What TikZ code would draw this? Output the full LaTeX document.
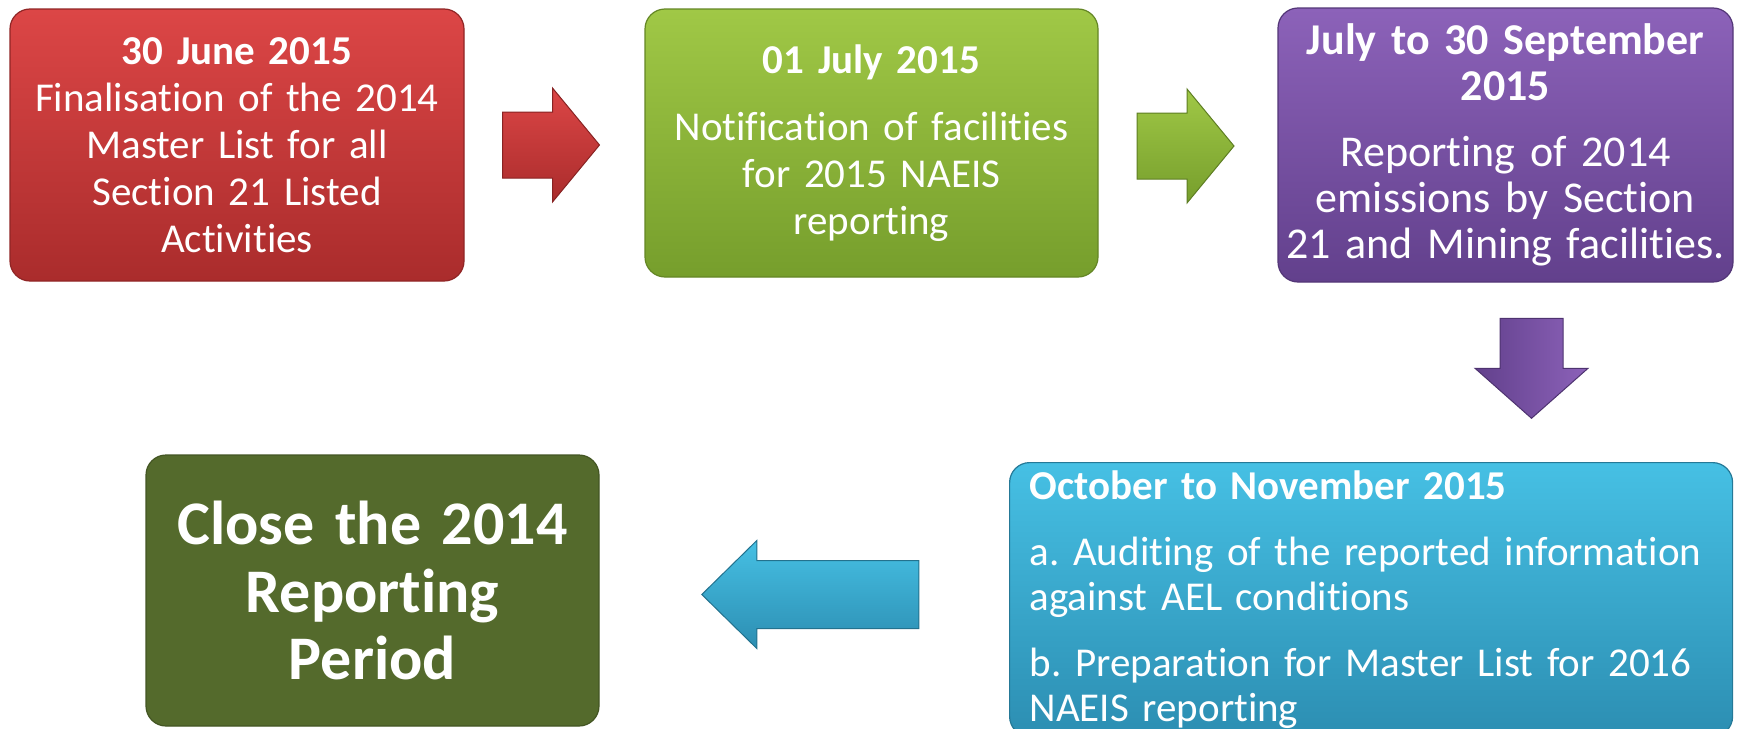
\documentclass[tikz,border=0pt]{standalone}
\usepackage{fontspec}
\setmainfont{Carlito}[Ligatures=NoCommon]
\usetikzlibrary{calc}
\frenchspacing
\hyphenpenalty=10000

\definecolor{redtop}{RGB}{220,70,70}
\definecolor{redbot}{RGB}{170,44,44}
\definecolor{greentop}{RGB}{160,200,70}
\definecolor{greenbot}{RGB}{118,158,44}
\definecolor{purpletop}{RGB}{140,98,185}
\definecolor{purplebot}{RGB}{98,64,140}
\definecolor{cyantop}{RGB}{70,192,228}
\definecolor{cyanbot}{RGB}{44,142,178}
\definecolor{closefill}{RGB}{84,106,44}

\tikzset{every picture/.style={line width=0.75pt}}
\tikzset{
  stagebox/.style={rounded corners=10pt, text=white, inner sep=0pt, line width=0.6pt},
  redbox/.style={stagebox, top color=redtop, bottom color=redbot, draw=redbot!85!black},
  greenbox/.style={stagebox, top color=greentop, bottom color=greenbot, draw=greenbot!85!black},
  purplebox/.style={stagebox, top color=purpletop, bottom color=purplebot, draw=purplebot!85!black},
  cyanbox/.style={stagebox, top color=cyantop, bottom color=cyanbot, draw=cyanbot!85!black},
  closebox/.style={stagebox, fill=closefill, draw=closefill!80!black},
  redarrow/.style={top color=redtop, bottom color=redbot, draw=redbot!80!black, line width=0.5pt},
  greenarrow/.style={top color=greentop, bottom color=greenbot, draw=greenbot!80!black, line width=0.5pt},
  purplearrow/.style={left color=purplebot, right color=purpletop, draw=purplebot!80!black, line width=0.5pt},
  cyanarrow/.style={top color=cyantop, bottom color=cyanbot, draw=cyanbot!80!black, line width=0.5pt},
}

\begin{document}
\begin{tikzpicture}[x=0.5pt,y=0.5pt,yscale=-1,xscale=1]
%set diagram left start at 0, and has height of 728
\useasboundingbox (0,0) rectangle (1739,728);

%Rounded Rect
\draw (237,145) node [redbox, minimum width=227pt, minimum height=136pt, text width=227pt, align=center, font=\fontsize{20.5}{23.5}\selectfont] (finalise) {{\bfseries 30 June 2015}\\Finalisation of the 2014\\Master List for all\\Section 21 Listed\\Activities};
%Rounded Rect
\draw (871.5,143) node [greenbox, minimum width=226.5pt, minimum height=134pt, text width=226.5pt, align=center, font=\fontsize{20.5}{23.5}\selectfont] (notify) {{\bfseries 01 July 2015}\\[10pt]Notification of facilities\\for 2015 NAEIS\\reporting};
%Rounded Rect
\draw (1505.5,145) node [purplebox, minimum width=227.5pt, minimum height=137pt, text width=227.5pt, align=center, font=\fontsize{22}{23}\selectfont] (report) {{\bfseries July to 30 September\\2015}\\[10pt]Reporting of 2014\\emissions by Section\\21 and Mining facilities.};
%Rounded Rect
\draw (1009,462) node [cyanbox, anchor=north west, minimum width=361.5pt, inner xsep=10pt, inner ysep=4pt, text width=341.5pt, align=left, font=\fontsize{20.5}{22.5}\selectfont] (audit) {{\bfseries October to November 2015}\\[10.5pt]a. Auditing of the reported information\\against AEL conditions\\[10.5pt]b. Preparation for Master List for 2016\\NAEIS reporting};
%Rounded Rect
\draw (372.5,590.5) node [closebox, minimum width=226.5pt, minimum height=135.5pt, text width=226.5pt, align=center, font=\fontsize{31}{33.8}\selectfont\bfseries] (close) {Close the 2014\\Reporting\\Period};

\coordinate (a1) at ($(finalise.east)!.5!(notify.west)+(-3,1)$);
\coordinate (a2) at ($(notify.east)!.5!(report.west)+(-2,2)$);
\coordinate (a3) at ($(report.south)!.5!(report.south|-audit.north)+(26,-4)$);
\coordinate (a4) at ($(close.east)!.5!(close.east-|audit.west)+(6,4)$);

%Right Arrow
\begin{scope}[shift={(a1)}]
\path [redarrow] (-49,-33) -- (1,-33) -- (1,-57) -- (48,0) -- (1,57) -- (1,33) -- (-49,33) -- cycle;
\end{scope}
%Right Arrow
\begin{scope}[shift={(a2)}]
\path [greenarrow] (-49,-33) -- (1,-33) -- (1,-57) -- (48,0) -- (1,57) -- (1,33) -- (-49,33) -- cycle;
\end{scope}
%Down Arrow
\begin{scope}[shift={(a3)}]
\path [purplearrow] (-31.5,-50) -- (31.5,-50) -- (31.5,0) -- (56.5,0) -- (0,50) -- (-56.5,0) -- (-31.5,0) -- cycle;
\end{scope}
%Left Arrow
\begin{scope}[shift={(a4)}]
\path [cyanarrow] (108.5,-34) -- (-53.5,-34) -- (-53.5,-54) -- (-108.5,0) -- (-53.5,54) -- (-53.5,34) -- (108.5,34) -- cycle;
\end{scope}

\end{tikzpicture}
\end{document}
